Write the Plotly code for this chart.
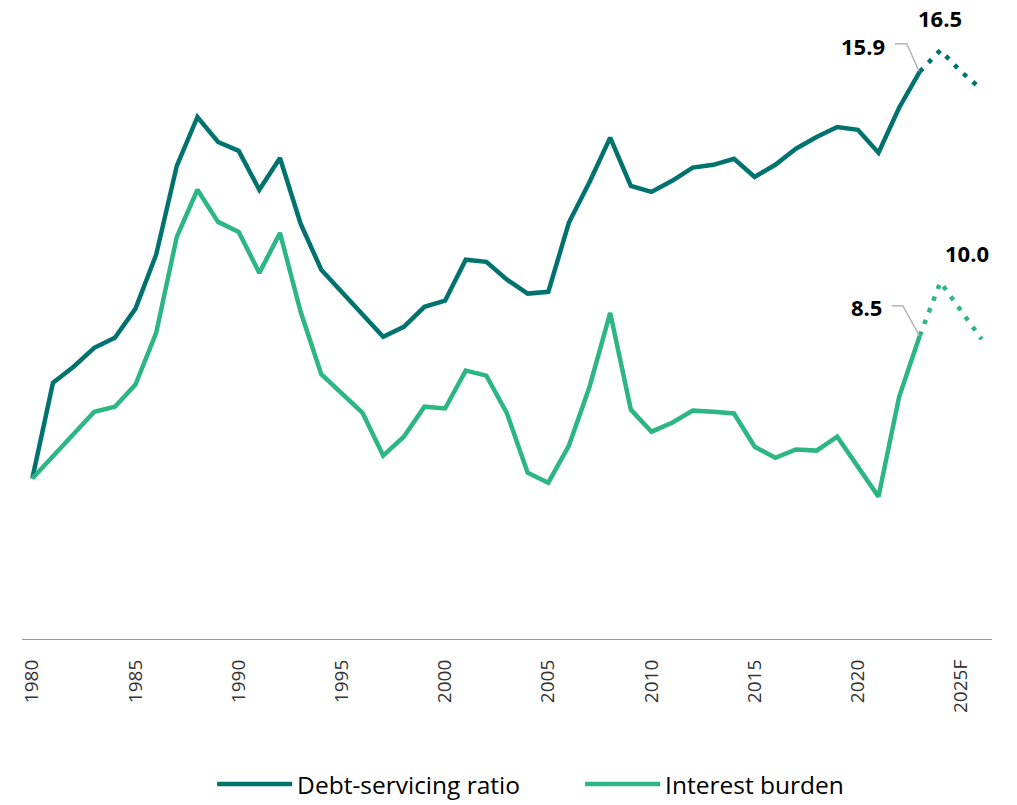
import plotly.graph_objects as go

years = list(range(1980, 2024))
debt_servicing = [4.5, 7.18, 7.63, 8.16, 8.44, 9.26, 10.77, 13.26, 14.63, 13.93,
                  13.68, 12.59, 13.48, 11.64, 10.35, 9.73, 9.1, 8.47, 8.75, 9.31,
                  9.48, 10.63, 10.57, 10.07, 9.68, 9.73, 11.67, 12.81, 14.05, 12.7,
                  12.53, 12.84, 13.21, 13.29, 13.46, 12.95, 13.29, 13.74, 14.07, 14.35,
                  14.27, 13.63, 14.89, 15.9]
interest_burden = [4.5, 5.12, 5.74, 6.37, 6.51, 7.13, 8.58, 11.27, 12.59, 11.69,
                   11.41, 10.26, 11.38, 9.17, 7.42, 6.88, 6.34, 5.14, 5.67, 6.51,
                   6.46, 7.52, 7.38, 6.32, 4.66, 4.38, 5.42, 7.07, 9.14, 6.43,
                   5.81, 6.06, 6.4, 6.37, 6.32, 5.39, 5.08, 5.31, 5.28, 5.67,
                   4.83, 3.99, 6.79, 8.5]

fc_years = [2023, 2024, 2025, 2026]
debt_fc = [15.9, 16.5, 15.9, 15.4]
interest_fc = [8.5, 10.0, 9.2, 8.4]

tick_vals = [1980, 1985, 1990, 1995, 2000, 2005, 2010, 2015, 2020, 2025]
tick_text = ["1980", "1985", "1990", "1995", "2000", "2005", "2010", "2015", "2020", "2025F"]

DARK = "#00736e"
LIGHT = "#2cb683"
FONT = "Open Sans"

fig = go.Figure()
fig.add_trace(go.Scatter(x=years, y=debt_servicing, mode="lines", name="Debt-servicing ratio",
                         line=dict(color=DARK, width=4.5)))
fig.add_trace(go.Scatter(x=years, y=interest_burden, mode="lines", name="Interest burden",
                         line=dict(color=LIGHT, width=4.5)))
fig.add_trace(go.Scatter(x=fc_years, y=debt_fc, mode="lines", showlegend=False,
                         line=dict(color=DARK, width=4.5, dash="4.5px,8px")))
fig.add_trace(go.Scatter(x=fc_years, y=interest_fc, mode="lines", showlegend=False,
                         line=dict(color=LIGHT, width=4.5, dash="4.5px,8px")))

ann_font = dict(family=FONT, size=22, color="#000000")
annotations = [
    dict(x=fc_years[0], y=debt_fc[0], text="<b>%.1f</b>" % debt_fc[0], xanchor="right", yanchor="middle",
         xshift=-33, yshift=26),
    dict(x=fc_years[1], y=debt_fc[1], text="<b>%.1f</b>" % debt_fc[1], xanchor="center", yanchor="middle",
         xshift=0, yshift=32),
    dict(x=fc_years[0], y=interest_fc[0], text="<b>%.1f</b>" % interest_fc[0], xanchor="right", yanchor="middle",
         xshift=-36, yshift=29),
    dict(x=fc_years[1], y=interest_fc[1], text="<b>%.1f</b>" % interest_fc[1], xanchor="center", yanchor="middle",
         xshift=27, yshift=29),
]
for a in annotations:
    a.update(xref="x", yref="y", showarrow=False, font=ann_font)

shapes = [
    dict(type="path", xref="x", yref="y", xsizemode="pixel", ysizemode="pixel",
         xanchor=fc_years[0], yanchor=debt_fc[0], path="M -1,1 L -13,28 L -25,28",
         line=dict(color="#b5b5b5", width=1.5)),
    dict(type="path", xref="x", yref="y", xsizemode="pixel", ysizemode="pixel",
         xanchor=fc_years[0], yanchor=interest_fc[0], path="M -1,1 L -17,30 L -28,30",
         line=dict(color="#b5b5b5", width=1.5)),
]

fig.update_layout(
    width=1017, height=805,
    margin=dict(l=22, r=25, t=11, b=166),
    plot_bgcolor="white", paper_bgcolor="white",
    font=dict(family=FONT, color="#333333"),
    annotations=annotations,
    shapes=shapes,
    showlegend=True,
    legend=dict(orientation="h", x=0.196, xanchor="left", y=0.026, yanchor="middle",
                yref="container",
                font=dict(family=FONT, size=24.5, color="#000000"), itemwidth=75,
                entrywidth=278),
)
fig.update_xaxes(range=[1979.5, 2026.5], tickvals=tick_vals, ticktext=tick_text, tickangle=-90,
                 showgrid=False, zeroline=False, showline=True, linecolor="#999999", linewidth=1.3,
                 ticks="", ticklabelstandoff=12, tickfont=dict(family=FONT, size=19, color="#333333"))
fig.update_yaxes(range=[0, 17.6], visible=False, showgrid=False, zeroline=False)

fig.write_html("out.html")
